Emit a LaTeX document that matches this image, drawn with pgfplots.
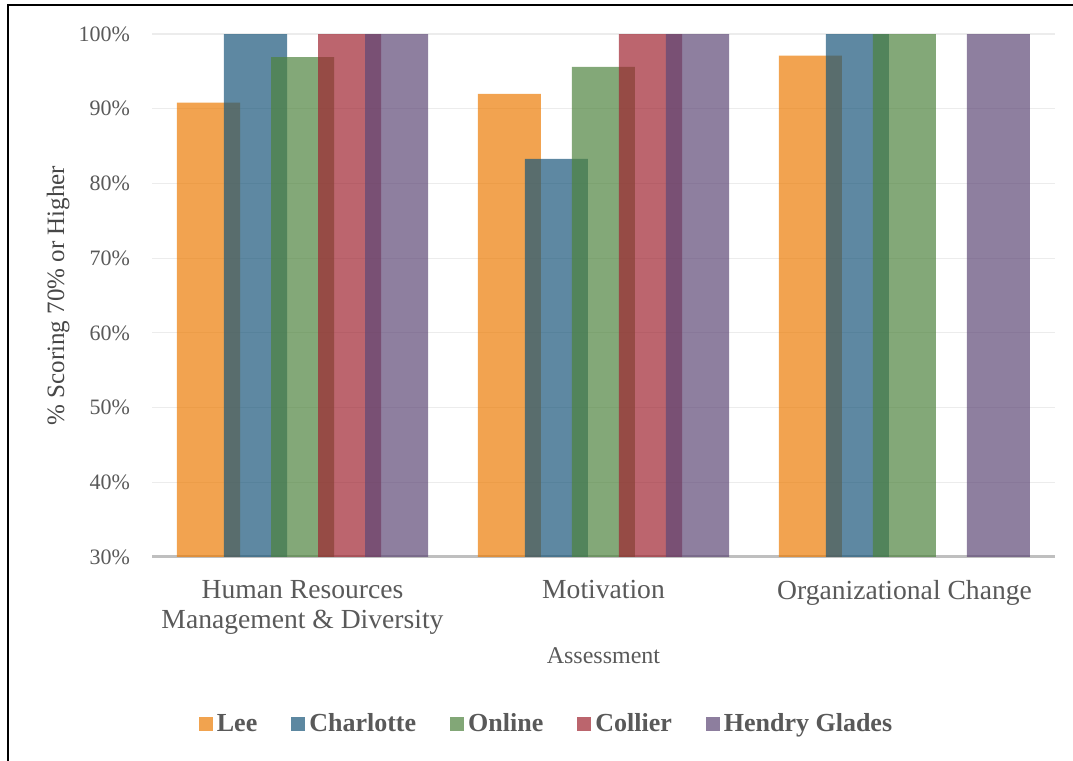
\documentclass[border=0pt]{standalone}
\usepackage{pgfplots}
\pgfplotsset{compat=1.18}
\usepackage{fontspec}
\setmainfont{Liberation Serif}
\definecolor{cLee}{RGB}{236,124,5}
\definecolor{cCha}{RGB}{25,86,122}
\definecolor{cOnl}{RGB}{78,131,62}
\definecolor{cCol}{RGB}{159,36,48}
\definecolor{cHen}{RGB}{94,72,118}
\definecolor{txt}{HTML}{595959}
\definecolor{gridc}{HTML}{ECECEC}
\definecolor{axl}{HTML}{BFBFBF}
\begin{document}
\begin{tikzpicture}
\path[use as bounding box] (0,0) rectangle (536.5pt,380.5pt);
\draw[black, line width=1pt] (4pt,0) -- (4pt,378pt) -- (536.5pt,378pt);
\begin{axis}[
  at={(76pt,102pt)}, anchor=south west,
  scale only axis, width=451.5pt, height=261.5pt,
  ybar=-8pt, bar width=31.5pt,
  xmin=-0.5, xmax=2.5, ymin=30, ymax=100,
  enlarge x limits=false,
  xtick={0,1,2},
  xticklabels={{Human Resources\\Management \& Diversity},{Motivation},{Organizational Change}},
  xticklabel style={align=center, font=\fontsize{13.8}{15}\selectfont, text=txt, anchor=north, yshift=-8pt},
  ytick={30,40,...,100},
  yticklabel={\pgfmathprintnumber{\tick}\%},
  /pgf/number format/assume math mode=true,
  yticklabel style={font=\fontsize{11}{13}\selectfont, text=txt, anchor=east, xshift=-7.5pt},
  major tick length=0pt,
  ymajorgrids, grid style={draw=gridc, line width=0.6pt},
  axis on top=false,
  axis x line*=bottom, axis y line*=left,
  y axis line style={draw=none},
  x axis line style={axl, line width=1.5pt},
  xlabel={Assessment},
  xlabel style={at={(axis description cs:0.5,0)}, anchor=center, yshift=-49.5pt, font=\fontsize{12}{14}\selectfont, text=txt},
  ylabel={\% Scoring 70\% or Higher},
  ylabel style={at={(axis description cs:-0.104,0.5)}, anchor=center, font=\fontsize{12.5}{14}\selectfont, text=txt!80!black},
  legend columns=5,
  legend style={draw=none, at={(axis description cs:0.438,0)}, anchor=center, yshift=-83.5pt,
    font=\bfseries\fontsize{13}{15}\selectfont, text=txt,
    /tikz/every even column/.append style={column sep=15pt},
    /tikz/every odd column/.append style={column sep=0pt}},
  legend image code/.code={\fill[#1] (0pt,-3.5pt) rectangle (7pt,3.5pt);},
  every axis plot/.append style={draw=none, fill opacity=0.7},
]
\addplot[fill=cLee] coordinates {(0,90.8) (1,92.0) (2,97.1)};
\addplot[fill=cCha] coordinates {(0,100) (1,83.3) (2,100)};
\addplot[fill=cOnl] coordinates {(0,96.9) (1,95.6) (2,100)};
\addplot[fill=cCol] coordinates {(0,100) (1,100)};
\addplot[fill=cHen] coordinates {(0,100) (1,100) (2,100)};
\legend{Lee,Charlotte,Online,Collier,Hendry Glades}
\end{axis}
\end{tikzpicture}
\end{document}
